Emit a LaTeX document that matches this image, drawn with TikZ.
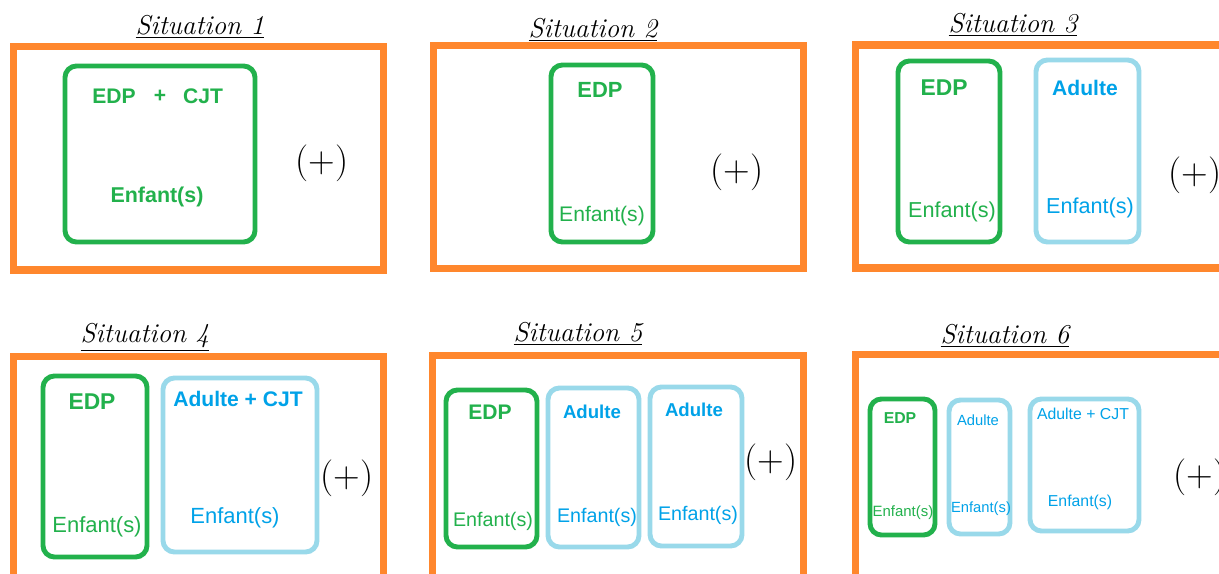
\documentclass[tikz,border=0pt]{standalone}
\usepackage{fontspec}
\setsansfont{Liberation Sans}
\definecolor{orangeP}{RGB}{255,135,45}
\definecolor{vertP}{RGB}{34,177,76}
\definecolor{bleuP}{RGB}{153,217,234}
\definecolor{bleuT}{RGB}{0,162,232}
\tikzset{
  cadre/.style={draw=orangeP,line width=4pt},
  vboite/.style={draw=vertP,line width=2.8pt,rounded corners=6.5pt},
  bboite/.style={draw=bleuP,line width=2.8pt,rounded corners=6.5pt},
  vtxt/.style={text=vertP,inner sep=0pt,font=\sffamily\bfseries\fontsize{#1}{#1}\selectfont},
  btxt/.style={text=bleuT,inner sep=0pt,font=\sffamily\bfseries\fontsize{#1}{#1}\selectfont},
  vtxtn/.style={text=vertP,inner sep=0pt,font=\sffamily\fontsize{#1}{#1}\selectfont},
  btxtn/.style={text=bleuT,inner sep=0pt,font=\sffamily\fontsize{#1}{#1}\selectfont},
  titre/.style={inner sep=0pt,font=\itshape\fontsize{15.5}{15.5}\selectfont\addfontfeatures{LetterSpace=7}},
  plus/.style={inner sep=0pt,font=\fontsize{21}{21}\selectfont}
}
\begin{document}
\begin{tikzpicture}[x=0.02cm,y=-0.02cm]
\clip (0,0) rectangle (1219,574);
\fill[white] (0,0) rectangle (1219,574);
% Situation 1
\node[titre](t1) at (200,27) {\underline{Situation 1}};
\draw[cadre] (13.5,46.5) rectangle (383.5,270);
\draw[vboite] (65,66) rectangle (255,242);
\node[vtxt=12](s1a) at (114,96) {EDP};
\node[vtxt=12](s1p) at (160,96) {+};
\node[vtxt=12](s1b) at (203,96) {CJT};
\node[vtxt=12.2](s1c) at (157,197) {Enfant(s)};
\node[plus](p1) at (322,163) {(+)};
% Situation 2
\node[titre](t2) at (593,30) {\underline{Situation 2}};
\draw[cadre] (433.5,45.5) rectangle (803.5,268.5);
\draw[vboite] (551,65) rectangle (653,242);
\node[vtxt=12.5](s2a) at (600,90) {EDP};
\node[vtxtn=12](s2b) at (602,216) {Enfant(s)};
\node[plus](p2) at (737,172) {(+)};
% Situation 3
\node[titre](t3) at (1013,25) {\underline{Situation 3}};
\draw[cadre] (855,45) rectangle (1240,268);
\draw[vboite] (898,61) rectangle (1000,242);
\node[vtxt=13](s3a) at (944,88) {EDP};
\node[vtxtn=12.3](s3b) at (952,212) {Enfant(s)};
\draw[bboite] (1036,60) rectangle (1139,242);
\node[btxt=12](s3c) at (1085,88) {Adulte};
\node[btxtn=12.3](s3d) at (1090,208) {Enfant(s)};
\node[plus](p3) at (1195,175) {(+)};
% Situation 4
\node[titre](t4) at (145,337) {\underline{Situation 4}};
\draw[cadre] (13.5,356.5) rectangle (383.5,600);
\draw[vboite] (43,376) rectangle (147,557);
\node[vtxt=13](s4a) at (92,402) {EDP};
\node[vtxtn=12.5](s4b) at (97,527) {Enfant(s)};
\draw[bboite] (163,378) rectangle (317,552);
\node[btxt=12](s4c) at (238,399) {Adulte + CJT};
\node[btxtn=12.5](s4d) at (235,518) {Enfant(s)};
\node[plus](p4) at (347,478) {(+)};
% Situation 5
\node[titre](t5) at (578,334) {\underline{Situation 5}};
\draw[cadre] (432.5,355.5) rectangle (803.5,600);
\draw[vboite] (446,390) rectangle (537,547);
\node[vtxt=12](s5a) at (490,412) {EDP};
\node[vtxtn=11.2](s5b) at (493,521) {Enfant(s)};
\draw[bboite] (548,388) rectangle (639,547);
\node[btxt=10.6](s5c) at (592,412) {Adulte};
\node[btxtn=11.2](s5d) at (597,517) {Enfant(s)};
\draw[bboite] (650,387) rectangle (742,546);
\node[btxt=10.6](s5e) at (694,410) {Adulte};
\node[btxtn=11.2](s5f) at (698,515) {Enfant(s)};
\node[plus](p5) at (771,462) {(+)};
% Situation 6
\node[titre](t6) at (1005,336) {\underline{Situation 6}};
\draw[cadre] (855,354.5) rectangle (1240,600);
\draw[vboite] (870,399) rectangle (935,535);
\node[vtxt=9](s6a) at (900,418) {EDP};
\node[vtxtn=8.5](s6b) at (903,513) {Enfant(s)};
\draw[bboite] (949,400) rectangle (1010,534);
\node[btxtn=8.4](s6c) at (978,420) {Adulte};
\node[btxtn=8.4](s6d) at (981,509) {Enfant(s)};
\draw[bboite] (1030,399) rectangle (1139,531);
\node[btxtn=9](s6e) at (1083,414) {Adulte + CJT};
\node[btxtn=9](s6f) at (1080,502) {Enfant(s)};
\node[plus](p6) at (1200,477) {(+)};
\end{tikzpicture}
\end{document}
